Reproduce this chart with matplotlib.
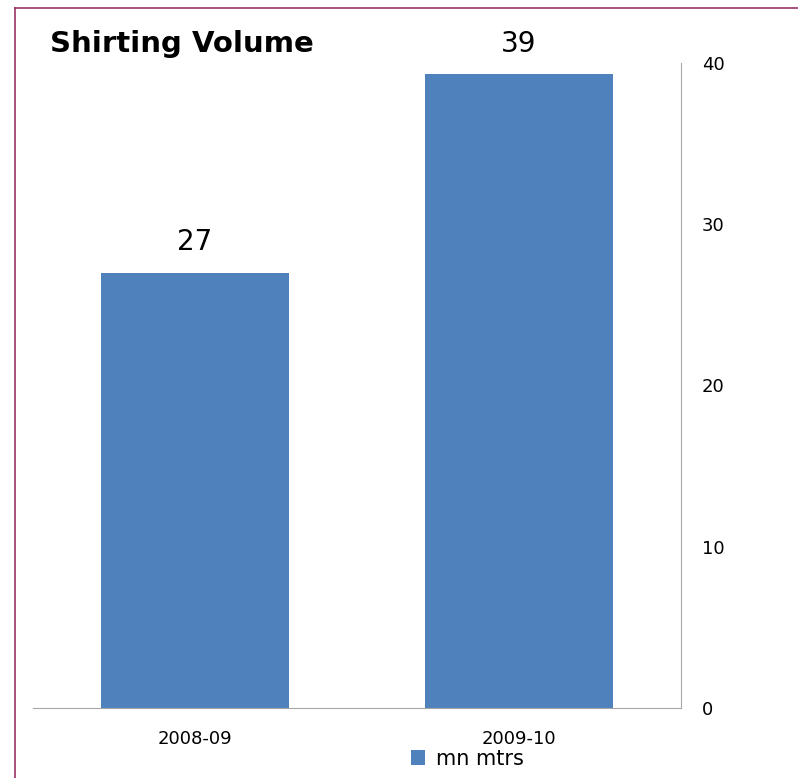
import matplotlib
matplotlib.use("Agg")
import matplotlib.pyplot as plt
from matplotlib.lines import Line2D
from matplotlib.patches import Patch

# Chart data
years = ["2008-09", "2009-10"]
volume = [27, 39.3]
value_labels = ["27", "39"]
y_ticks = [0, 10, 20, 30, 40]

bar_color = "#4F81BD"
axis_grey = "#A6A6A6"
frame_color = "#993366"

fig = plt.figure(figsize=(7.98, 7.78), dpi=100)
W, H = 798, 778

# Plot area in pixel coords
left, right, top, bottom = 33, 681, 63, 708
ax = fig.add_axes([left / W, (H - bottom) / H, (right - left) / W, (bottom - top) / H])

x = range(len(years))
ax.bar(x, volume, width=0.58, color=bar_color, zorder=2)
ax.set_xlim(-0.5, 1.5)
ax.set_ylim(0, 40)

# Value labels above bars
for xi, v, lab in zip(x, volume, value_labels):
    ax.annotate(lab, (xi, v), xytext=(0, 12), textcoords="offset points",
                ha="center", va="bottom", fontsize=20, family="DejaVu Sans")

# Axes styling: right y axis, baseline only
for side in ["left", "top"]:
    ax.spines[side].set_visible(False)
ax.spines["right"].set_color(axis_grey)
ax.spines["bottom"].set_color(axis_grey)
ax.yaxis.tick_right()
ax.set_yticks(y_ticks)
ax.tick_params(axis="y", length=0, pad=15, labelsize=13)
ax.set_xticks(list(x))
ax.set_xticklabels(years)
ax.tick_params(axis="x", length=0, pad=16, labelsize=13)

# Title
fig.text(50 / W, 1 - 44 / H, "Shirting Volume", fontsize=21, fontweight="bold",
         family="DejaVu Sans", ha="left", va="center")

# Legend
handle = Patch(facecolor=bar_color, edgecolor="none")
fig.legend([handle], ["mn mtrs"], loc="center", bbox_to_anchor=(467 / W, 1 - 759 / H),
           frameon=False, handlelength=0.7, handleheight=0.7,
           handletextpad=0.5, borderpad=0.1, prop={"family": "DejaVu Sans", "size": 15})

# Outer frame lines (top and left)
fig.add_artist(Line2D([15 / W, 1], [1 - 8 / H, 1 - 8 / H], color=frame_color, lw=1.2))
fig.add_artist(Line2D([15 / W, 15 / W], [0, 1 - 8 / H], color=frame_color, lw=1.2))

fig.savefig("out.png", dpi=100)
